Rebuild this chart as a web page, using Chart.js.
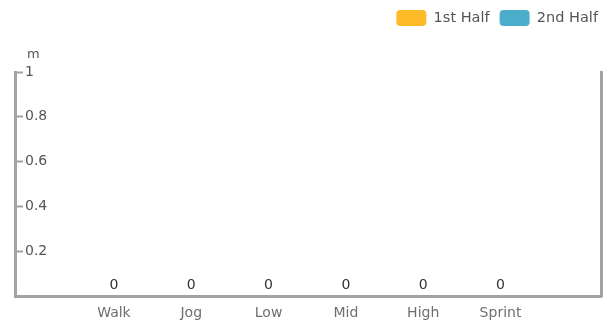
<!DOCTYPE html>
<html>
<head>
<meta charset="utf-8">
<script src="https://cdn.jsdelivr.net/npm/chart.js@4/dist/chart.umd.min.js"></script>
<style>
    html, body { margin: 0; padding: 0; background: #fff; }
    #wrap { width: 616px; height: 328px; }
</style>
</head>
<body>
<div id="wrap"><canvas id="chart"></canvas></div>
<script>
const categories = ['Walk', 'Jog', 'Low', 'Mid', 'High', 'Sprint'];
const firstHalf = [0, 0, 0, 0, 0, 0];
const secondHalf = [0, 0, 0, 0, 0, 0];
const yTicks = [0, 0.2, 0.4, 0.6, 0.8, 1];
const unitLabel = 'm';

const axisGrey = '#a2a2a2';

const toPoints = (values) => values.map((y, x) => ({ x, y }));

// total per category, written just above the bars
const valueLabels = {
    id: 'valueLabels',
    afterDatasetsDraw(chart) {
        const { ctx, scales: { x, y } } = chart;
        ctx.save();
        ctx.font = '14px "DejaVu Sans"';
        ctx.fillStyle = '#333';
        ctx.textAlign = 'center';
        ctx.textBaseline = 'middle';
        categories.forEach((_, i) => {
            const total = chart.data.datasets.reduce((sum, ds) => sum + ds.data[i].y, 0);
            ctx.fillText(String(total), x.getPixelForValue(i), y.getPixelForValue(total) - 11);
        });
        ctx.restore();
    },
};

// unit caption above the value axis
const unitCaption = {
    id: 'unitCaption',
    afterDraw(chart) {
        const { ctx, chartArea } = chart;
        ctx.save();
        ctx.font = '13px "DejaVu Sans"';
        ctx.fillStyle = '#555';
        ctx.textAlign = 'left';
        ctx.textBaseline = 'middle';
        ctx.fillText(unitLabel, chartArea.left + 12, chartArea.top - 17);
        ctx.restore();
    },
};

// leave room under the legend for the unit caption
const legendGap = {
    id: 'legendGap',
    beforeInit(chart) {
        const fit = chart.legend.fit;
        chart.legend.fit = function () {
            fit.call(this);
            this.height += 36;
        };
    },
};

new Chart(document.getElementById('chart'), {
    type: 'bar',
    data: {
        datasets: [
            { label: '1st Half', data: toPoints(firstHalf), backgroundColor: '#fdbb27', borderWidth: 0 },
            { label: '2nd Half', data: toPoints(secondHalf), backgroundColor: '#4cadca', borderWidth: 0 },
        ],
    },
    options: {
        responsive: true,
        maintainAspectRatio: false,
        animation: false,
        layout: { padding: { top: 0, right: 8, bottom: -3, left: 3 } },
        plugins: {
            legend: {
                position: 'top',
                align: 'end',
                labels: {
                    boxWidth: 30,
                    boxHeight: 16,
                    useBorderRadius: true,
                    borderRadius: 4,
                    color: '#555',
                    font: { family: 'DejaVu Sans', size: 14.5 },
                    padding: 10,
                },
            },
            tooltip: { enabled: false },
        },
        scales: {
            x: {
                type: 'linear',
                offset: false,
                min: -1.28,
                max: 6.3,
                afterBuildTicks: (axis) => {
                    axis.ticks = categories.map((_, i) => ({ value: i }));
                },
                ticks: {
                    autoSkip: false,
                    maxRotation: 0,
                    color: '#6e6e6e',
                    font: { family: 'DejaVu Sans', size: 14 },
                    padding: 9,
                    callback: (value) => categories[value] ?? '',
                },
                grid: { display: false, drawTicks: false },
                border: { display: true, color: axisGrey, width: 3 },
            },
            y: {
                position: 'left',
                min: 0,
                max: 1,
                afterBuildTicks: (axis) => {
                    axis.ticks = yTicks.map((value) => ({ value }));
                },
                ticks: {
                    mirror: true,
                    padding: 10,
                    color: '#555',
                    font: { family: 'DejaVu Sans', size: 14 },
                    callback: (value) => (value === 0 ? '' : String(value)),
                },
                grid: {
                    drawOnChartArea: false,
                    drawTicks: true,
                    tickLength: -8,
                    color: axisGrey,
                    tickWidth: 2,
                },
                border: { display: true, color: axisGrey, width: 3 },
            },
            yRight: {
                position: 'right',
                min: 0,
                max: 1,
                afterFit: (scale) => {
                    scale.width = 7;
                },
                ticks: { display: false },
                grid: { drawOnChartArea: false, drawTicks: false },
                border: { display: true, color: axisGrey, width: 3 },
            },
        },
    },
    plugins: [valueLabels, unitCaption, legendGap],
});
</script>
</body>
</html>
